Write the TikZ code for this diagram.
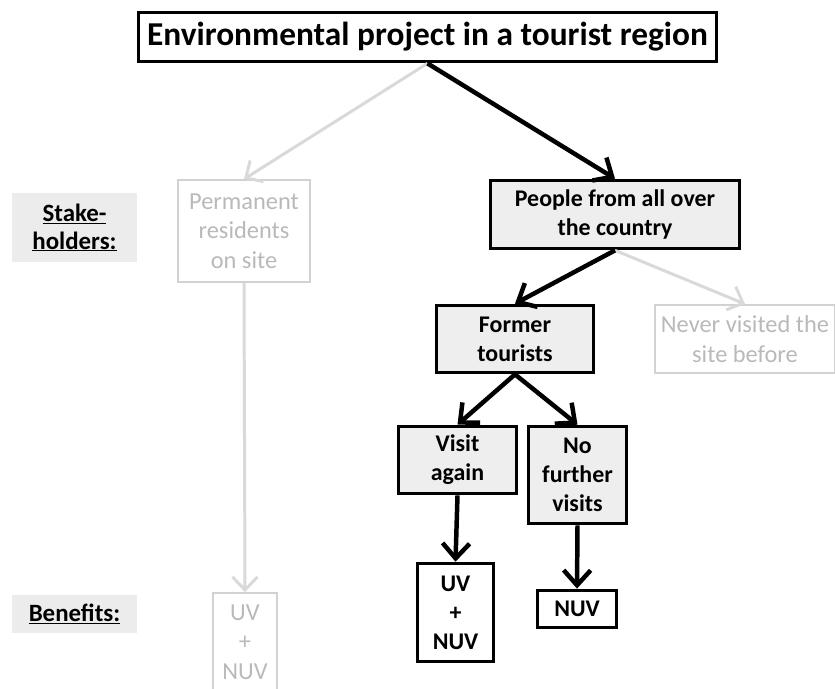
\documentclass[tikz,border=0pt]{standalone}
\usepackage{fontspec}
\setmainfont{Carlito}
\usetikzlibrary{arrows.meta}

\tikzset{
	mainbox/.style={draw=black, line width=3, fill=gray!13, align=center, inner sep=0,
		font=\fontsize{24}{29}\selectfont\bfseries},
	greybox/.style={draw=gray!35, line width=2.2, text=gray!55, align=center, inner sep=0,
		font=\fontsize{24.5}{29.5}\selectfont},
	tag/.style={fill=gray!15, align=center, inner sep=0,
		font=\fontsize{25}{28}\selectfont\bfseries},
	blackarrow/.style={line width=4.5, -{Straight Barb[length=15bp,width=27bp]}},
	greyarrow/.style={draw=gray!30, line width=3, -{Straight Barb[length=13bp,width=25bp]}}
}

\begin{document}
\begin{tikzpicture}[x=1bp, y=-1bp]
	\useasboundingbox (0,0) rectangle (835,689);

	% Project
	\node [draw=black, line width=3, fill=white, inner sep=0, minimum width=581, minimum height=50,
		font=\fontsize{33.5}{38}\selectfont\bfseries] (project) at (427.5,37) {Environmental project in a tourist region};

	% Row labels
	\node [tag, minimum width=125, minimum height=69] (stake) at (74.5,227.5) {\underline{Stake-}\\\underline{holders:}};
	\node [tag, minimum width=125, minimum height=38] (benefits) at (74.5,614) {\underline{Benefits:}};

	% Stakeholders
	\node [greybox, minimum width=132, minimum height=102] (residents) at (244,231) {Permanent\\residents\\on site};
	\node [mainbox, minimum width=250, minimum height=69] (country) at (615,214.5) {People from all over\\the country};
	\node [mainbox, minimum width=158, minimum height=68] (former) at (515,339) {Former\\tourists};
	\node [greybox, minimum width=180, minimum height=68] (never) at (745,339) {Never visited the\\site before};
	\node [mainbox, minimum width=119, minimum height=68] (again) at (457.5,460) {Visit\\again};
	\node [mainbox, minimum width=99, minimum height=98] (nofurther) at (577.5,475) {No\\further\\visits};

	% Benefits
	\node [mainbox, fill=white, minimum width=77, minimum height=99] (uvnuv) at (455.5,612.5) {UV\\+\\NUV};
	\node [mainbox, fill=white, minimum width=80, minimum height=38] (nuv) at (577,609) {NUV};
	\node [greybox, minimum width=64, minimum height=98] (greyuv) at (245,642) {UV\\+\\NUV};

	% Arrows
	\draw [greyarrow] (project.south) -- (residents.north);
	\draw [blackarrow] (project.south) -- (country.north);
	\draw [greyarrow] (country.south) -- (never.north);
	\draw [blackarrow] (country.south) -- (former.north);
	\draw [blackarrow] (former.south) -- (again.north);
	\draw [blackarrow] (former.south) -- (nofurther.north);
	\draw [blackarrow] (again.south) -- (uvnuv.north);
	\draw [blackarrow] (nofurther.south) -- (nuv.north);
	\draw [greyarrow] (residents.south) -- (greyuv.north);
\end{tikzpicture}
\end{document}
